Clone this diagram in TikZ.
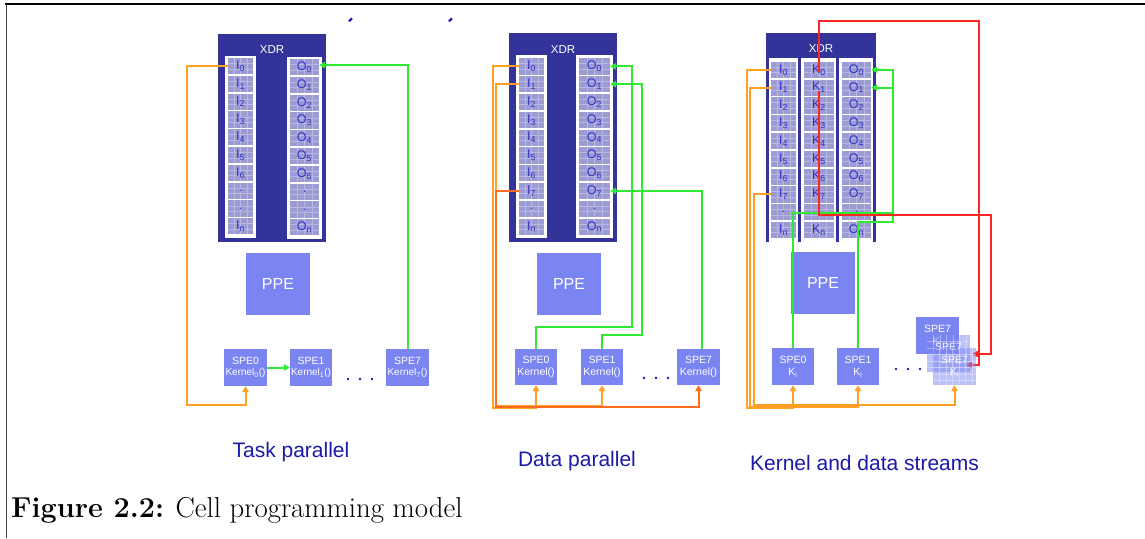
\documentclass[tikz,border=0pt]{standalone}
\usepackage{fontspec}
\newfontfamily\arial{Liberation Sans}
\usetikzlibrary{arrows.meta}

\definecolor{xdrblue}{HTML}{333399}
\definecolor{cellfill}{HTML}{9C9CD2}
\definecolor{cellgrid}{HTML}{B8B8E4}
\definecolor{celltext}{HTML}{3030C8}
\definecolor{unitblue}{HTML}{7A85F2}
\definecolor{labelblue}{HTML}{1A1AA8}
\definecolor{dmaorange}{HTML}{FFA024}
\definecolor{dmadark}{HTML}{FF6C1E}
\definecolor{kgreen}{HTML}{30EA30}
\definecolor{kred}{HTML}{FF2424}

\def\celldot{.}

\tikzset{
  unit/.style={fill=unitblue, text=white, align=center, inner sep=0pt,
    font=\arial\fontsize{10.5}{12.5}\selectfont},
  ppe/.style={unit, font=\arial\fontsize{16}{18}\selectfont},
  celltxt/.style={text=celltext, inner sep=0pt, minimum height=16.2pt,
    font=\arial\fontsize{12.5}{12.5}\selectfont},
  xdrtxt/.style={text=white, inner sep=0pt, font=\arial\fontsize{11.5}{12}\selectfont},
  panellabel/.style={text=labelblue, inner sep=0pt, anchor=base,
    font=\arial\fontsize{21}{24}\selectfont},
  link/.style={line width=2pt, -{Triangle[length=6pt,width=6.5pt]}},
  dma/.style={link, draw=dmaorange},
  dmalate/.style={link, draw=dmadark},
  kernel/.style={link, draw=kgreen},
  kstream/.style={link, draw=kred},
  glass/.style={unit, fill opacity=0.5, text opacity=1},
}

% one memory column: #1 name prefix, #2 letter, #3 left, #4 right,
% #5 top of first cell, #6 list of indices
\newcommand\memcol[6]{%
  \foreach \lab [count=\k from 0] in {#6} {%
    \pgfmathsetmacro\ctop{#5+17.8*\k}%
    \fill[cellfill] (#3,\ctop) rectangle (#4,\ctop+16.2);
    \foreach \f in {0.25,0.5,0.75}
      \draw[cellgrid, line width=0.5pt] ({#3+\f*(#4-#3)},\ctop) -- ({#3+\f*(#4-#3)},\ctop+16.2);
    \foreach \f in {5.4,10.8}
      \draw[cellgrid, line width=0.5pt] (#3,\ctop+\f) -- (#4,\ctop+\f);
    \node[celltxt, minimum width={(#4-#3)*1pt}] (#1\k) at ({(#3+#4)/2},\ctop+8.1)
      {\ifx\lab\celldot.\else#2\textsubscript{\lab}\fi};
  }%
}

% a processing unit box given by its corners
\newcommand\unitbox[7][unit]{%
  \node[#1, minimum width={(#5-#3)*1pt}, minimum height={(#6-#4)*1pt}]
    (#2) at ({(#3+#5)/2},{(#4+#6)/2}) {#7};}

% faint grid on a translucent unit
\newcommand\glassgrid[4]{%
  \foreach \gx in {6.5,13,...,40} \draw[white, opacity=0.35, line width=0.5pt] (#1+\gx,#2) -- (#1+\gx,#4);
  \foreach \gy in {6.5,13,...,34} \draw[white, opacity=0.35, line width=0.5pt] (#1,#2+\gy) -- (#3,#2+\gy);}

\begin{document}
\begin{tikzpicture}[x=1pt, y=-1pt]
\useasboundingbox (0,0) rectangle (1145,538);
\fill[white] (0,0) rectangle (1145,538);

% page rules
\draw[line width=1.4pt] (5,4) -- (1145,4);
\draw[line width=0.9pt, black!75] (6,4) -- (6,538);

% remnants of the line above
\fill[labelblue] (348,21) -- (351,17.6) -- (352.8,19) -- (350,21.8) -- cycle;
\fill[labelblue] (448,21) -- (451,17.6) -- (452.8,19) -- (450,21.8) -- cycle;

%% ---------------- task parallel ----------------
\fill[xdrblue] (218,34) rectangle (326,242);
\node[xdrtxt] (L-xdr) at (272,50) {XDR};
\fill[white] (225,56) rectangle (256,238);
\fill[white] (287,57) rectangle (322,239);
\memcol{L-I}{I}{228}{253}{58}{0,1,2,3,4,5,6,.,.,n}
\memcol{L-O}{O}{290}{319}{59}{0,1,2,3,4,5,6,.,.,n}
\unitbox[ppe]{L-ppe}{246}{253}{310}{315}{PPE}
\unitbox{L-S0}{224}{349}{267}{386}{SPE0\\[-1pt]{\fontsize{10}{12}\selectfont Kernel\textsubscript{0}()}}
\unitbox{L-S1}{290}{349}{332}{386}{SPE1\\[-1pt]{\fontsize{10}{12}\selectfont Kernel\textsubscript{1}()}}
\unitbox{L-S7}{386}{349}{429}{386}{SPE7\\[-1pt]{\fontsize{10}{12}\selectfont Kernel\textsubscript{7}()}}
\foreach \dx in {348,360,372} \fill[labelblue] (\dx,379) circle (1.4);

\coordinate (L-ob) at (187,405);
\draw[dma] (L-I0.west) -| (L-ob) -| (L-S0.south);
\draw[kernel] (L-S0.east) -- (L-S1.west);
\draw[kernel] (L-S7.north) |- ([yshift=2pt]L-O0.east);

%% ---------------- data parallel ----------------
\fill[xdrblue] (509,33) rectangle (617,242);
\node[xdrtxt] (M-xdr) at (563,50) {XDR};
\fill[white] (516,55) rectangle (547,238);
\fill[white] (576,55) rectangle (613,238);
\memcol{M-I}{I}{519}{544}{58.3}{0,1,2,3,4,5,6,7,.,n}
\memcol{M-O}{O}{579}{610}{58.3}{0,1,2,3,4,5,6,7,.,n}
\unitbox[ppe]{M-ppe}{537}{253}{601}{315}{PPE}
\unitbox{M-S0}{515}{349}{557}{385}{SPE0\\Kernel()}
\unitbox{M-S1}{581}{349}{623}{385}{SPE1\\Kernel()}
\unitbox{M-S7}{677}{349}{720}{385}{SPE7\\Kernel()}
\foreach \dx in {644,656,668} \fill[labelblue] (\dx,378) circle (1.4);

\coordinate (M-o0) at (493,408);
\coordinate (M-o1) at (496,406);
\coordinate (M-o7) at (496,407);
\draw[dma] (M-I0.west) -| (M-o0) -| (M-S0.south);
\draw[dma] (M-I1.west) -| (M-o1) -| (M-S1.south);
\draw[dmalate] (M-I7.west) -| (M-o7) -| (M-S7.south);

\coordinate (M-g0) at (632,327);
\coordinate (M-g1) at (642,335);
\draw[kernel] (M-S0.north) |- (M-g0) |- (M-O0.east);
\draw[kernel] (M-S1.north) |- (M-g1) |- (M-O1.east);
\draw[kernel] ([xshift=3.5pt]M-S7.north) |- (M-O7.east);

%% ---------------- kernel and data streams ----------------
\fill[xdrblue] (766,33) rectangle (876,58);
\foreach \bx in {766,798,836,873} \fill[xdrblue] (\bx,58) rectangle (\bx+3.3,242);
\node[xdrtxt] (R-xdr) at (821,49) {XDR};
\fill[white] (769.3,58) rectangle (798,238);
\fill[white] (801.3,58) rectangle (836,238);
\fill[white] (839.3,58) rectangle (873,238);
\memcol{R-I}{I}{771}{796}{61.7}{0,1,2,3,4,5,6,7,.,n}
\memcol{R-K}{K}{804}{834}{61.7}{0,1,2,3,4,5,6,7,.,n}
\memcol{R-O}{O}{842}{871}{61.7}{0,1,2,3,4,5,6,7,.,n}
\unitbox[ppe]{R-ppe}{791}{252}{855}{314}{PPE}
\unitbox{R-S0}{772}{348}{814}{385}{SPE0\\K\textsubscript{i}}
\unitbox{R-S1}{837}{348}{879}{385}{SPE1\\K\textsubscript{i}}
\foreach \dx in {896,908,920} \fill[labelblue] (\dx,369) circle (1.4);
\unitbox{R-S7b}{916}{317}{959}{354}{SPE7\\K\textsubscript{i}}

\coordinate (R-o0) at (747,407.5);
\coordinate (R-o1) at (749.5,406.5);
\coordinate (R-o7) at (754,405);
\coordinate (R-g0) at (893,212.5);
\coordinate (R-g1) at (893,222);
\coordinate (R-r0) at (979,21);
\coordinate (R-t0) at (966,365);
\coordinate (R-r1) at (991,215);
\coordinate (R-t1) at (972,354);

\draw[kernel] (R-S0.north) |- (R-g0) |- (R-O0.east);
\draw[kernel] (R-S1.north) |- (R-g1) |- (R-O1.east);
\draw[kstream] ([yshift=-2pt]R-K0.center) |- (R-r0) |- (R-t0);
\draw[kstream] ([yshift=-3pt]R-K1.center) |- (R-r1) |- (R-t1);

% stacked SPE7 instances, see-through
\unitbox[glass]{R-S7m}{927}{335}{970}{372}{SPE7\\K\textsubscript{i}}
\glassgrid{927}{335}{970}{372}
\unitbox[glass]{R-S7}{933}{348}{976}{385}{SPE7\\K\textsubscript{i}}
\glassgrid{933}{348}{976}{385}

\draw[dma] (R-I0.west) -| (R-o0) -| (R-S0.south);
\draw[dma] (R-I1.west) -| (R-o1) -| (R-S1.south);
\draw[dma] (R-I7.west) -| (R-o7) -| (R-S7.south);

%% ---------------- labels ----------------
\node[panellabel] (L-cap) at (291,457) {Task parallel};
\node[panellabel] (M-cap) at (577,466) {Data parallel};
\node[panellabel] (R-cap) at (864.5,470) {Kernel and data streams};
\node[anchor=base west, inner sep=0pt, font=\fontsize{28.8}{32}\selectfont]
  (fig) at (11,517) {\textbf{Figure 2.2:} Cell programming model};
\end{tikzpicture}
\end{document}
